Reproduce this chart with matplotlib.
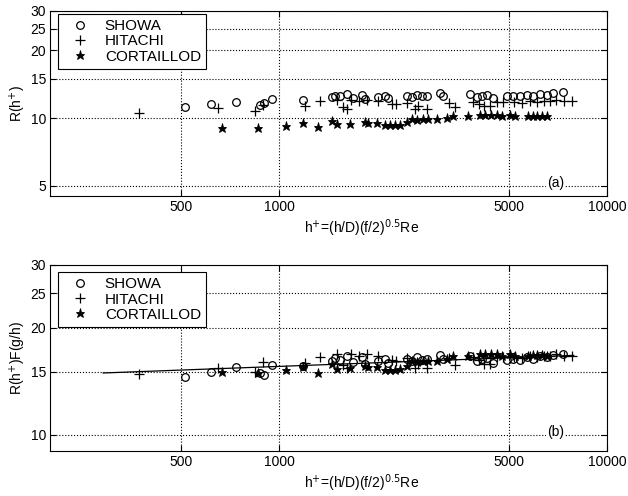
import matplotlib
matplotlib.use('Agg')
from matplotlib import pyplot as plt


"""
Roughness function vs h+ for three tube makers, (a) raw and (b) scaled by F(g/h).
"""

showa_h = [514, 618, 735, 870, 900, 950, 1177, 1443, 1474, 1527, 1604, 1672, 1782, 1818,
           1994, 2094, 2139, 2444, 2531, 2622, 2716, 2812, 3082, 3146, 3802, 3992, 4136,
           4284, 4467, 4930, 5142, 5400, 5674, 5916, 6218, 6530, 6809, 7309]
showa_a = [11.2, 11.5, 11.8, 11.4, 11.7, 12.1, 12.0, 12.4, 12.6, 12.5, 12.8, 12.3, 12.7, 12.2,
           12.4, 12.6, 12.3, 12.6, 12.4, 12.7, 12.5, 12.6, 12.9, 12.6, 12.8, 12.4, 12.6,
           12.7, 12.3, 12.5, 12.6, 12.5, 12.7, 12.6, 12.8, 12.7, 12.9, 13.0]
showa_b = [14.5, 15.0, 15.5, 14.9, 14.75, 15.7, 15.6, 16.1, 16.4, 16.2, 16.6, 16.0, 16.5, 15.8,
           16.1, 16.3, 15.9, 16.3, 16.1, 16.5, 16.2, 16.3, 16.7, 16.3, 16.6, 16.1, 16.3,
           16.4, 15.9, 16.2, 16.3, 16.2, 16.5, 16.3, 16.6, 16.5, 16.7, 16.9]

hitachi_h = [372, 648, 840, 890, 1195, 1326, 1500, 1560, 1610, 1650, 1750, 1850, 2000, 2200,
             2270, 2450, 2590, 2650, 2810, 3300, 3430, 3900, 4050, 4200, 4400, 4600, 4800,
             5200, 5500, 5800, 6100, 6400, 6700, 7000, 7400, 7800]
hitachi_a = [10.5, 11.06, 10.7, 11.4, 11.3, 11.85, 12.0, 11.2, 11.0, 12.0, 11.9, 12.0, 11.9, 11.6,
             11.5, 11.7, 11.0, 11.3, 11.0, 11.7, 11.2, 11.8, 11.6, 11.3, 11.3, 11.8, 11.8,
             11.8, 11.7, 11.9, 11.8, 11.9, 11.9, 12.0, 11.9, 11.9]
hitachi_b = [14.8, 15.4, 15.0, 16.0, 15.9, 16.5, 16.8, 15.7, 15.4, 16.8, 16.6, 16.8, 16.6, 16.2,
             16.1, 16.4, 15.4, 15.8, 15.4, 16.4, 15.7, 16.5, 16.2, 15.8, 15.8, 16.5, 16.5,
             16.5, 16.4, 16.6, 16.5, 16.6, 16.6, 16.8, 16.6, 16.6]

cort_h = [667, 860, 1050, 1177, 1309, 1443, 1495, 1637, 1818, 1858, 1980, 2094, 2168, 2245,
          2326, 2444, 2531, 2622, 2734, 2832, 3016, 3236, 3374, 3750, 4080, 4250, 4420, 4600,
          4780, 5035, 5220, 5715, 5916, 6120, 6340, 6560]
cort_a = [9.05, 9.05, 9.2, 9.5, 9.1, 9.7, 9.4, 9.45, 9.6, 9.5, 9.5, 9.3, 9.3, 9.3,
          9.35, 9.6, 9.9, 9.8, 9.9, 9.9, 9.9, 10.0, 10.2, 10.2, 10.3, 10.3, 10.3, 10.3,
          10.2, 10.3, 10.2, 10.2, 10.25, 10.25, 10.25, 10.2]
cort_b = [15.0, 14.9, 15.2, 15.5, 14.9, 15.8, 15.3, 15.4, 15.6, 15.5, 15.5, 15.2, 15.2, 15.2,
          15.3, 15.6, 16.1, 16.0, 16.1, 16.1, 16.1, 16.3, 16.6, 16.6, 16.8, 16.8, 16.8, 16.8,
          16.6, 16.8, 16.6, 16.6, 16.7, 16.7, 16.7, 16.6]

fit_h = [290, 7900]
fit_b = [14.9, 16.7]

xticks = [500, 1000, 5000, 10000]
yticks_a = [5, 10, 15, 20, 25, 30]
yticks_b = [10, 15, 20, 25, 30]

plt.rcParams['font.family'] = ['Liberation Sans', 'DejaVu Sans']
plt.rcParams['font.size'] = 10

fig = plt.figure(figsize=(6.28, 4.96), dpi=100)
ax1 = fig.add_axes([0.080, 0.605, 0.887, 0.373])
ax2 = fig.add_axes([0.080, 0.091, 0.887, 0.375])

xlabel = 'h$^{+}$=(h/D)(f/2)$^{0.5}$Re'


def setup(ax, ylo, yticks, ylabel, tag, tag_y, leg_y):
    ax.set_xscale('log')
    ax.set_yscale('log')
    ax.set_xlim(200, 10000)
    ax.set_ylim(ylo, 30)
    ax.set_xticks(xticks)
    ax.set_xticklabels([str(t) for t in xticks])
    ax.set_yticks(yticks)
    ax.set_yticklabels([str(t) for t in yticks])
    ax.minorticks_off()
    ax.tick_params(direction='in', top=True, right=True, length=4, width=0.8, pad=3)
    ax.grid(True, linestyle=':', color='black', linewidth=0.8)
    ax.set_xlabel(xlabel)
    ax.xaxis.set_label_coords(0.558, -0.115)
    ax.set_ylabel(ylabel, labelpad=2)
    for s in ax.spines.values():
        s.set_linewidth(0.8)
    ax.text(0.907, tag_y, tag, transform=ax.transAxes, ha='center', va='center',
            bbox=dict(facecolor='white', edgecolor='none', pad=0.5))
    leg = ax.legend(loc='upper left', bbox_to_anchor=(0.0144, leg_y), borderaxespad=0,
                    fancybox=False, edgecolor='black', framealpha=1, fontsize=11,
                    handletextpad=0.5, labelspacing=0.08, handlelength=2.2, borderpad=0.35)
    leg.get_frame().set_linewidth(0.8)


ax1.plot(showa_h, showa_a, 'o', mfc='none', mec='black', ms=5.5, mew=0.9, label='SHOWA')
ax1.plot(hitachi_h, hitachi_a, '+', color='black', ms=7, mew=0.9, label='HITACHI')
ax1.plot(cort_h, cort_a, '*', color='black', ms=6.5, mew=0.6, label='CORTAILLOD')
setup(ax1, 4.5, yticks_a, 'R(h$^{+}$)', '(a)', 0.07, 0.984)

ax2.plot(showa_h, showa_b, 'o', mfc='none', mec='black', ms=5.5, mew=0.9, label='SHOWA')
ax2.plot(hitachi_h, hitachi_b, '+', color='black', ms=7, mew=0.9, label='HITACHI')
ax2.plot(cort_h, cort_b, '*', color='black', ms=6.5, mew=0.6, label='CORTAILLOD')
ax2.plot(fit_h, fit_b, '-', color='black', linewidth=0.9)
setup(ax2, 9, yticks_b, 'R(h$^{+}$)F(g/h)', '(b)', 0.1, 0.962)

fig.savefig('out.png', dpi=100)
